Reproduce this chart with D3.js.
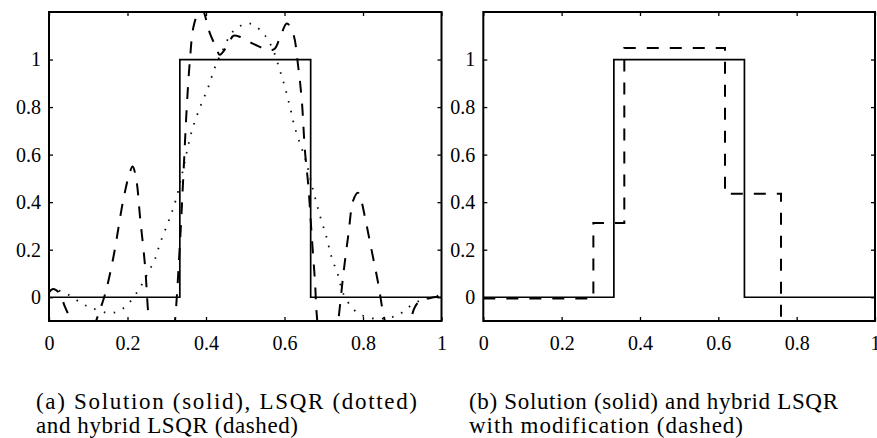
<!DOCTYPE html>
<html>
<head>
<meta charset="utf-8">
<script src="https://cdn.jsdelivr.net/npm/d3@7"></script>
<style>
  body { margin: 0; background: #fff; }
  text { font-family: "Liberation Serif", "DejaVu Serif", serif; fill: #000; }
</style>
</head>
<body>
<div id="chart"></div>
<script>
// data
var xTicks = [0, 0.2, 0.4, 0.6, 0.8, 1];
var yTicks = [0, 0.2, 0.4, 0.6, 0.8, 1];

// exact solution (box)
var solX = [0, 1/3, 1/3, 2/3, 2/3, 1];
var solY = [0, 0, 1, 1, 0, 0];

// LSQR (dotted)
var lsqrX = [0, 0.02, 0.05, 0.085, 0.11, 0.155, 0.18, 0.2, 0.23, 0.253, 0.27, 0.283, 0.3, 0.313,
  0.325, 0.338, 0.351, 0.364, 0.385, 0.406, 0.423, 0.44, 0.47, 0.51, 0.546, 0.571, 0.588,
  0.601, 0.614, 0.627, 0.643, 0.656, 0.673, 0.69, 0.707, 0.72, 0.737, 0.75, 0.784, 0.83,
  0.886, 0.928, 0.958, 1];
var lsqrY = [0.03, 0.03, 0.01, -0.028, -0.046, -0.067, -0.056, -0.031, 0.035, 0.105, 0.16, 0.227, 0.3, 0.358,
  0.42, 0.51, 0.61, 0.70, 0.80, 0.885, 0.968, 1.03, 1.12, 1.152, 1.11, 1.04, 0.955,
  0.885, 0.80, 0.71, 0.63, 0.565, 0.45, 0.345, 0.253, 0.168, 0.09, 0.014, -0.063, -0.09,
  -0.077, -0.028, -0.007, 0.01];

// hybrid LSQR (dashed)
var hybX = [0, 0.01, 0.025, 0.041, 0.054, 0.07, 0.09, 0.11, 0.12, 0.143, 0.164, 0.189, 0.205, 0.213,
  0.222, 0.232, 0.245, 0.253, 0.265, 0.29, 0.31, 0.321, 0.334, 0.342, 0.351, 0.359, 0.368, 0.38,
  0.39, 0.41, 0.426, 0.435, 0.455, 0.47, 0.487, 0.51, 0.537, 0.56, 0.575, 0.59, 0.606, 0.622,
  0.635, 0.644, 0.652, 0.661, 0.669, 0.678, 0.682, 0.695, 0.71, 0.725, 0.737, 0.75, 0.763,
  0.775, 0.787, 0.795, 0.805, 0.822, 0.839, 0.852, 0.87, 0.895, 0.92, 0.932, 0.945, 0.962, 0.98, 1];
var hybY = [0.02, 0.035, 0.02, -0.042, -0.091, -0.17, -0.2, -0.15, -0.1, 0.014, 0.168, 0.407, 0.52, 0.55,
  0.5, 0.337, 0.126, -0.07, -0.25, -0.4, -0.25, -0.1, 0.239, 0.5, 0.80, 0.997, 1.137, 1.195,
  1.21, 1.11, 1.05, 1.02, 1.06, 1.1, 1.095, 1.075, 1.053, 1.038, 1.045, 1.1, 1.152, 1.11,
  0.969, 0.829, 0.618, 0.463, 0.267, 0.056, -0.07, -0.25, -0.3, -0.25, -0.1, 0.098, 0.267,
  0.407, 0.44, 0.41, 0.337, 0.197, 0.056, -0.07, -0.18, -0.2, -0.1, -0.042, -0.015, -0.007, 0, 0];

// hybrid LSQR with modification (dashed, piecewise constant)
var modX = [0, 0.281, 0.36, 0.617, 0.76, 1];
var modY = [-0.005, 0.312, 1.049, 0.435, -0.15, -0.15];

var width = 877, height = 438;
var plotTop = 12, plotBottom = 321;

var svg = d3.select("#chart")
    .append("svg")
    .attr("width", width)
    .attr("height", height);

function zip(xs, ys) {
    return xs.map(function(d, i) { return [d, ys[i]]; });
}

function panel(id, left, right, series) {
    var x = d3.scaleLinear().domain([0, 1]).range([left, right]);
    var y = d3.scaleLinear().domain([-0.1, 1.2]).range([plotBottom, plotTop]);

    svg.append("clipPath").attr("id", "clip" + id)
        .append("rect")
        .attr("x", left).attr("y", plotTop)
        .attr("width", right - left).attr("height", plotBottom - plotTop);

    var g = svg.append("g").attr("clip-path", "url(#clip" + id + ")");

    series.forEach(function(s) {
        var line = d3.line()
            .x(function(d) { return x(d[0]); })
            .y(function(d) { return y(d[1]); })
            .curve(s.curve);
        g.append("path")
            .datum(s.data)
            .attr("d", line)
            .attr("fill", "none")
            .attr("stroke", s.color || "#000")
            .attr("stroke-width", s.width)
            .attr("stroke-dasharray", s.dash);
    });

    // axes, ticks pointing inward
    var ax = svg.append("g").attr("class", "axes");
    ax.append("g")
        .attr("transform", "translate(0," + plotBottom + ")")
        .call(d3.axisBottom(x).tickValues(xTicks).tickFormat(d3.format("")).tickSize(-4).tickPadding(15));
    ax.append("g")
        .attr("transform", "translate(0," + plotTop + ")")
        .call(d3.axisTop(x).tickValues(xTicks).tickFormat("").tickSize(-4));
    ax.append("g")
        .attr("transform", "translate(" + left + ",0)")
        .call(d3.axisLeft(y).tickValues(yTicks).tickFormat(d3.format("")).tickSize(-4).tickPadding(8));
    ax.append("g")
        .attr("transform", "translate(" + right + ",0)")
        .call(d3.axisRight(y).tickValues(yTicks).tickFormat("").tickSize(-4));

    ax.selectAll(".domain").remove();
    ax.selectAll(".tick line").attr("stroke", "#000").attr("stroke-width", 1.3);
    ax.selectAll(".tick text")
        .style("font-size", "20px")
        .style("font-family", '"Liberation Serif", serif');

    svg.append("rect")
        .attr("x", left).attr("y", plotTop)
        .attr("width", right - left).attr("height", plotBottom - plotTop)
        .attr("fill", "none")
        .attr("stroke", "#000")
        .attr("stroke-width", 2);
}

panel("a", 49, 441.5, [
    {data: zip(solX, solY), curve: d3.curveLinear, width: 1.7, dash: null},
    {data: zip(lsqrX, lsqrY), curve: d3.curveCatmullRom, width: 1.8, dash: "1.6,8.4", color: "#111"},
    {data: zip(hybX, hybY), curve: d3.curveCatmullRom, width: 2, dash: "12,11"}
]);

panel("b", 483.3, 875, [
    {data: zip(solX, solY), curve: d3.curveLinear, width: 1.7, dash: null},
    {data: zip(modX, modY), curve: d3.curveStepAfter, width: 2, dash: "12,11"}
]);

// captions
var captions = [
    {text: "(a) Solution (solid), LSQR (dotted)", x: 36, y: 409, len: 381},
    {text: "and hybrid LSQR (dashed)", x: 36, y: 433, len: 262},
    {text: "(b) Solution (solid) and hybrid LSQR", x: 469, y: 409, len: 369},
    {text: "with modification (dashed)", x: 469, y: 433, len: 274}
];

svg.selectAll(".caption")
    .data(captions)
    .join("text")
    .attr("class", "caption")
    .attr("x", function(d) { return d.x; })
    .attr("y", function(d) { return d.y; })
    .attr("textLength", function(d) { return d.len; })
    .attr("lengthAdjust", "spacing")
    .style("font-size", "23px")
    .text(function(d) { return d.text; });
</script>
</body>
</html>
